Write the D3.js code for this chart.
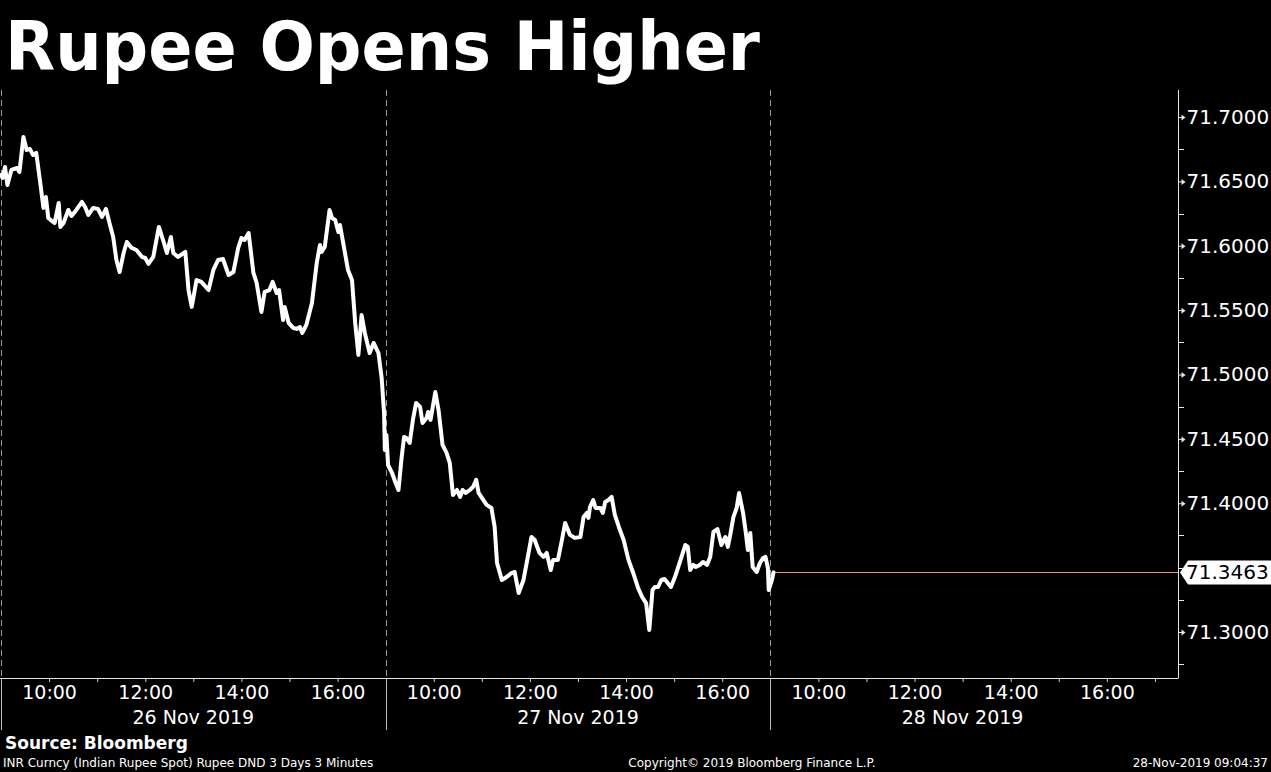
<!DOCTYPE html>
<html><head><meta charset="utf-8">
<script src="https://cdn.jsdelivr.net/npm/d3@7"></script>
<style>html,body{margin:0;padding:0;background:#000;overflow:hidden}</style>
</head><body>
<svg id="chart" width="1271" height="772"></svg>
<script>
// ---- data ----
const chartTitle = "Rupee Opens Higher";
const sessionDates = ["26 Nov 2019", "27 Nov 2019", "28 Nov 2019"];
const sessionOpenHour = 9;          // each session 09:00-17:00
const sessionLengthMin = 480;
const hourTicks = [10, 11, 12, 13, 14, 15, 16];
const labelledHours = [10, 12, 14, 16];
const yTickValues = [71.30, 71.40, 71.45, 71.50, 71.55, 71.60, 71.65, 71.70];
const yMinorTicks = [71.275, 71.325, 71.35, 71.375, 71.425, 71.475, 71.525, 71.575, 71.625, 71.675];
// trading minutes since 26 Nov 09:00 (sessions joined end to end)
const tradeMinutes = [
  0,2,5,8,13,20,23,28,32,36,40,44,49,53,56,59,65,67,72,74,78,84,88,94,101,105,109,115,121,126,
  131,136,140,144,148,153,157,163,169,176,180,184,190,197,203,207,212,215,221,230,234,238,244,250,259,265,271,277,284,290,
  296,300,304,309,315,319,325,329,335,339,344,347,352,354,359,365,369,373,376,381,388,394,398,400,404,410,413,417,421,423,
  427,433,438,442,446,450,454,460,465,471,475,478,
  479,481,483,488,492,496,500,503,506,510,514,518,523,526,531,533,536,542,546,551,556,560,564,569,573,576,580,585,589,593,
  596,602,606,612,616,619,625,631,637,641,646,652,656,662,666,672,677,681,683,686,689,695,700,704,710,716,723,727,731,733,
  735,739,742,748,751,754,758,762,766,771,777,783,789,795,800,805,809,813,816,820,824,828,832,836,841,848,854,857,860,864,
  867,872,876,881,885,889,894,899,904,907,910,914,918,921,926,929,932,935,938,943,947,951,954,957,958,962,964
];
const inrValues = [
  71.655,71.6526,71.6612,71.6472,71.6589,71.6604,71.6573,71.6845,71.6744,71.6752,71.6705,71.6721,71.6488,71.6294,71.6379,71.6216,71.6185,71.6177,71.6332,71.6146,
  71.6177,71.6278,71.6231,71.6278,71.634,71.6301,71.6239,71.6294,71.6286,71.6224,71.6286,71.6162,71.6068,71.589,71.5796,71.5944,71.6029,71.5983,71.5967,71.5913,
  71.5905,71.5859,71.5913,71.6146,71.6029,71.5944,71.6068,71.5944,71.5913,71.5952,71.5656,71.5525,71.5734,71.5719,71.5656,71.5812,71.589,71.5897,71.5773,71.5796,
  71.5983,71.606,71.6045,71.6099,71.5789,71.5711,71.5486,71.5641,71.5656,71.5719,71.5633,71.5656,71.5424,71.5525,71.54,71.5361,71.5354,71.5369,71.5323,71.5385,
  71.5556,71.5866,71.6006,71.5952,71.5991,71.6278,71.6216,71.62,71.6107,71.6161,71.6022,71.5812,71.5734,71.54,71.5152,71.5462,71.5323,71.5167,71.5245,71.5167,
  71.4973,71.4701,
  71.4414,71.453,71.4297,71.4235,71.4165,71.4103,71.4359,71.4515,71.4507,71.4468,71.4647,71.4779,71.4748,71.4624,71.4662,71.4709,71.4647,71.4864,71.4724,71.4453,
  71.4391,71.4313,71.4064,71.4103,71.4049,71.4103,71.408,71.4103,71.4126,71.4181,71.408,71.4025,71.3987,71.3963,71.3816,71.3536,71.3404,71.3427,71.3458,71.3466,
  71.3303,71.3404,71.3536,71.3738,71.3715,71.3614,71.3583,71.3614,71.356,71.3482,71.356,71.356,71.3715,71.3847,71.3754,71.3731,71.3738,71.3894,71.3925,71.3886,
  71.3971,71.4025,71.3963,71.3963,71.3925,71.401,71.4025,71.4049,71.3909,71.3816,71.3715,71.356,71.3458,71.3342,71.3272,71.3225,71.3016,71.3326,71.335,71.335,
  71.3404,71.3412,71.3381,71.335,71.3427,71.356,71.3676,71.3661,71.3482,71.3521,71.3505,71.3521,71.3544,71.3521,71.3583,71.3777,71.38,71.3676,71.3738,71.3661,
  71.3754,71.3894,71.3963,71.4079,71.3925,71.3793,71.3637,71.3769,71.3505,71.3466,71.3536,71.3575,71.3583,71.3497,71.3326,71.3404,71.3463
];
const lastValue = 71.3463;
const sourceText = "Source: Bloomberg";
const footLeft = "INR Curncy (Indian Rupee Spot) Rupee DND 3 Days 3 Minutes";
const footMid = "Copyright\u00A9 2019 Bloomberg Finance L.P.";
const footRight = "28-Nov-2019 09:04:37";

// ---- layout ----
const svg = d3.select("#chart");
const W = 1271, H = 772;
const plotTop = 90, plotBottom = 678, plotLeft = 1, axisX = 1178;
const FONT = "'DejaVu Sans', Verdana, sans-serif";

svg.append("rect").attr("width", W).attr("height", H).attr("fill", "#000");

const x = d3.scaleLinear().domain([0, 1470]).range([plotLeft, axisX + 1]);
const y = d3.scaleLinear().domain([71.30, 71.70]).range([632, 117]);

// title
svg.append("text").attr("x", 5).attr("y", 70)
  .attr("fill", "#fff").attr("font-family", FONT).attr("font-weight", "bold")
  .attr("font-size", 68).attr("textLength", 755).attr("lengthAdjust", "spacingAndGlyphs")
  .text(chartTitle);

// session dividers
const dividers = [0, sessionLengthMin, 2 * sessionLengthMin];
svg.append("g").selectAll("line").data(dividers).join("line")
  .attr("x1", d => Math.round(x(d)) + 0.5).attr("x2", d => Math.round(x(d)) + 0.5)
  .attr("y1", plotTop).attr("y2", plotBottom)
  .attr("stroke", "#9a9a9a").attr("stroke-width", 1).attr("stroke-dasharray", "6,4");
svg.append("g").selectAll("line").data(dividers).join("line")
  .attr("x1", d => Math.round(x(d)) + 0.5).attr("x2", d => Math.round(x(d)) + 0.5)
  .attr("y1", plotBottom).attr("y2", 730)
  .attr("stroke", "#bdbdbd").attr("stroke-width", 1);

// x axis
const xTickMinutes = [];
sessionDates.forEach((d, i) => hourTicks.forEach(h => xTickMinutes.push(i * sessionLengthMin + (h - sessionOpenHour) * 60)));
xTickMinutes.push(3 * sessionLengthMin);
const xAxis = d3.axisBottom(x).tickValues(xTickMinutes).tickSize(4).tickSizeOuter(0)
  .tickFormat(m => {
    const h = sessionOpenHour + (m % sessionLengthMin) / 60;
    return (labelledHours.includes(h) && m < 3 * sessionLengthMin) ? d3.format("02d")(h) + ":00" : "";
  });
const gx = svg.append("g").attr("transform", `translate(0,${plotBottom})`).call(xAxis);
gx.select(".domain").attr("stroke", "#e6e6e6").attr("d", `M0,0.5H${axisX}`);
gx.selectAll(".tick line").attr("stroke", "#cfcfcf");
gx.selectAll(".tick text").attr("fill", "#fff").attr("font-family", FONT)
  .attr("font-size", 19).attr("dy", 0).attr("y", 21);

// date labels
svg.append("g").selectAll("text").data(sessionDates).join("text")
  .attr("x", (d, i) => x(i * sessionLengthMin + sessionLengthMin / 2))
  .attr("y", 724).attr("text-anchor", "middle")
  .attr("fill", "#fff").attr("font-family", FONT).attr("font-size", 19)
  .text(d => d);

// y axis
const yAxis = d3.axisRight(y).tickValues(yTickValues).tickSize(6).tickPadding(2)
  .tickFormat(d3.format(".4f"));
const gy = svg.append("g").attr("transform", `translate(${axisX + 0.5},0)`).call(yAxis);
gy.select(".domain").attr("stroke", "#e6e6e6").attr("d", `M0,${plotTop}V${plotBottom + 0.5}`);
gy.selectAll(".tick line").attr("stroke", "#e6e6e6");
gy.selectAll(".tick text").attr("fill", "#fff").attr("font-family", FONT).attr("font-size", 20);
gy.selectAll(".tick").append("path").attr("d", "M3,-3L7,0L3,3Z").attr("fill", "#e6e6e6");
svg.append("g").selectAll("line").data(yMinorTicks).join("line")
  .attr("x1", axisX).attr("x2", axisX + 6)
  .attr("y1", d => Math.round(y(d)) + 0.5).attr("y2", d => Math.round(y(d)) + 0.5)
  .attr("stroke", "#e6e6e6");

// last value line
const lastM = tradeMinutes[tradeMinutes.length - 1];
svg.append("line")
  .attr("x1", x(lastM)).attr("x2", axisX)
  .attr("y1", Math.round(y(lastValue)) + 0.5).attr("y2", Math.round(y(lastValue)) + 0.5)
  .attr("stroke", "#e8a05a").attr("stroke-width", 1);

// price line
const pts = tradeMinutes.map((m, i) => ({m, v: inrValues[i]}));
svg.append("path").datum(pts)
  .attr("d", d3.line().x(d => x(d.m)).y(d => y(d.v)))
  .attr("fill", "none").attr("stroke", "#fff").attr("stroke-width", 4)
  .attr("stroke-linejoin", "round").attr("stroke-linecap", "round");

// last value tag
const ly = y(lastValue);
svg.append("path")
  .attr("d", `M${axisX + 2},${ly} L${axisX + 10},${ly - 12} H${W} V${ly + 12} H${axisX + 10} Z`)
  .attr("fill", "#fff");
svg.append("text").attr("x", axisX + 8).attr("y", ly + 7)
  .attr("fill", "#000").attr("font-family", FONT).attr("font-size", 20)
  .text(d3.format(".4f")(lastValue));

// footer
svg.append("text").attr("x", 5).attr("y", 749).attr("fill", "#fff")
  .attr("font-family", FONT).attr("font-weight", "bold").attr("font-size", 17).text(sourceText);
svg.append("text").attr("x", 3).attr("y", 767).attr("fill", "#fff")
  .attr("font-family", FONT).attr("font-size", 12).text(footLeft);
svg.append("text").attr("x", 752).attr("y", 767).attr("fill", "#fff").attr("text-anchor", "middle")
  .attr("font-family", FONT).attr("font-size", 12).text(footMid);
svg.append("text").attr("x", 1268).attr("y", 767).attr("fill", "#fff").attr("text-anchor", "end")
  .attr("font-family", FONT).attr("font-size", 12).text(footRight);
</script>
</body></html>
